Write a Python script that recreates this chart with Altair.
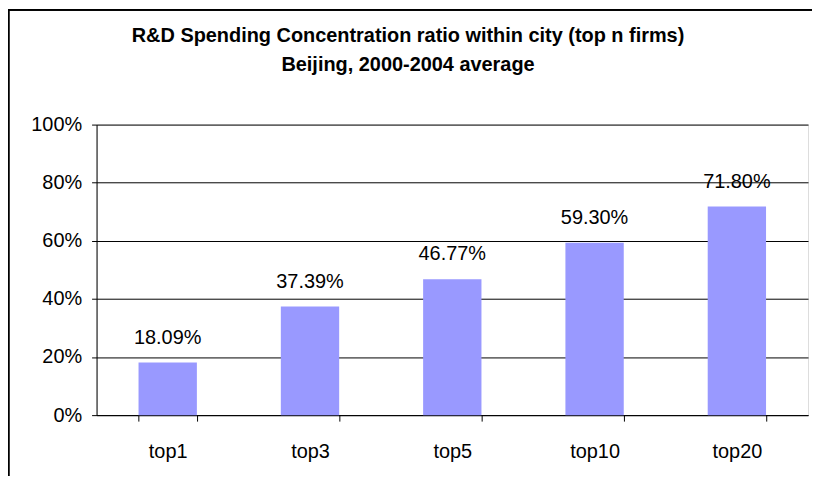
import altair as alt
import pandas as pd

categories = ["top1", "top3", "top5", "top10", "top20"]
values = [0.1809, 0.3739, 0.4677, 0.5930, 0.7180]
labels = ["18.09%", "37.39%", "46.77%", "59.30%", "71.80%"]
y_ticks = [0, 0.2, 0.4, 0.6, 0.8, 1.0]
title_lines = ["R&D Spending Concentration ratio within city (top n firms)",
               "Beijing, 2000-2004 average"]

df = pd.DataFrame({"cat": categories, "val": values, "lab": labels})

FONT = "Liberation Sans"
FS = 20
W, H = 715, 292

x_enc = alt.X("cat:N", sort=categories, title=None,
              scale=alt.Scale(paddingInner=0.59, paddingOuter=0.295),
              axis=alt.Axis(labelAngle=0, labelFontSize=FS, labelFont=FONT,
                            labelColor="black", tickBand="extent", tickSize=6,
                            tickColor="black", domainColor="black",
                            labelPadding=21, grid=False))
y_enc = alt.Y("val:Q", title=None,
              scale=alt.Scale(domain=[0, 1], nice=False),
              axis=alt.Axis(values=y_ticks, format=".0%", labelFontSize=FS,
                            labelFont=FONT, labelColor="black", tickSize=5,
                            tickColor="black", domainColor="black",
                            labelPadding=10, gridColor="black", gridOpacity=1,
                            gridWidth=1))

base = alt.Chart(df)
bars = base.mark_bar(color="#9999FF").encode(x=x_enc, y=y_enc)
text = base.mark_text(baseline="alphabetic", dy=-19, fontSize=FS, font=FONT,
                      color="black").encode(
    x=alt.X("cat:N", sort=categories), y="val:Q", text="lab:N")

border = base.mark_rect(fill=None, stroke="black", strokeWidth=1.5).encode(
    x=alt.value(-88.5), x2=alt.value(W + 40),
    y=alt.value(-115.5), y2=alt.value(H + 120))

t1 = alt.Chart(pd.DataFrame({"t": [title_lines[0]]})).mark_text(
    fontSize=20, font=FONT, fontWeight="bold", color="black",
    baseline="alphabetic", align="center").encode(
    text="t:N", x=alt.value(313), y=alt.value(-83))
t2 = alt.Chart(pd.DataFrame({"t": [title_lines[1]]})).mark_text(
    fontSize=20, font=FONT, fontWeight="bold", color="black",
    baseline="alphabetic", align="center").encode(
    text="t:N", x=alt.value(313), y=alt.value(-54))

chart = alt.layer(border, bars, text, t1, t2).properties(
    width=W, height=H,
    padding={"left": 89, "top": 116, "right": 4, "bottom": 60},
    autosize=alt.AutoSizeParams(type="none"),
).configure_view(stroke=None).configure(background="white")

chart.save("out.html", embed_options={"renderer": "svg", "actions": False})
